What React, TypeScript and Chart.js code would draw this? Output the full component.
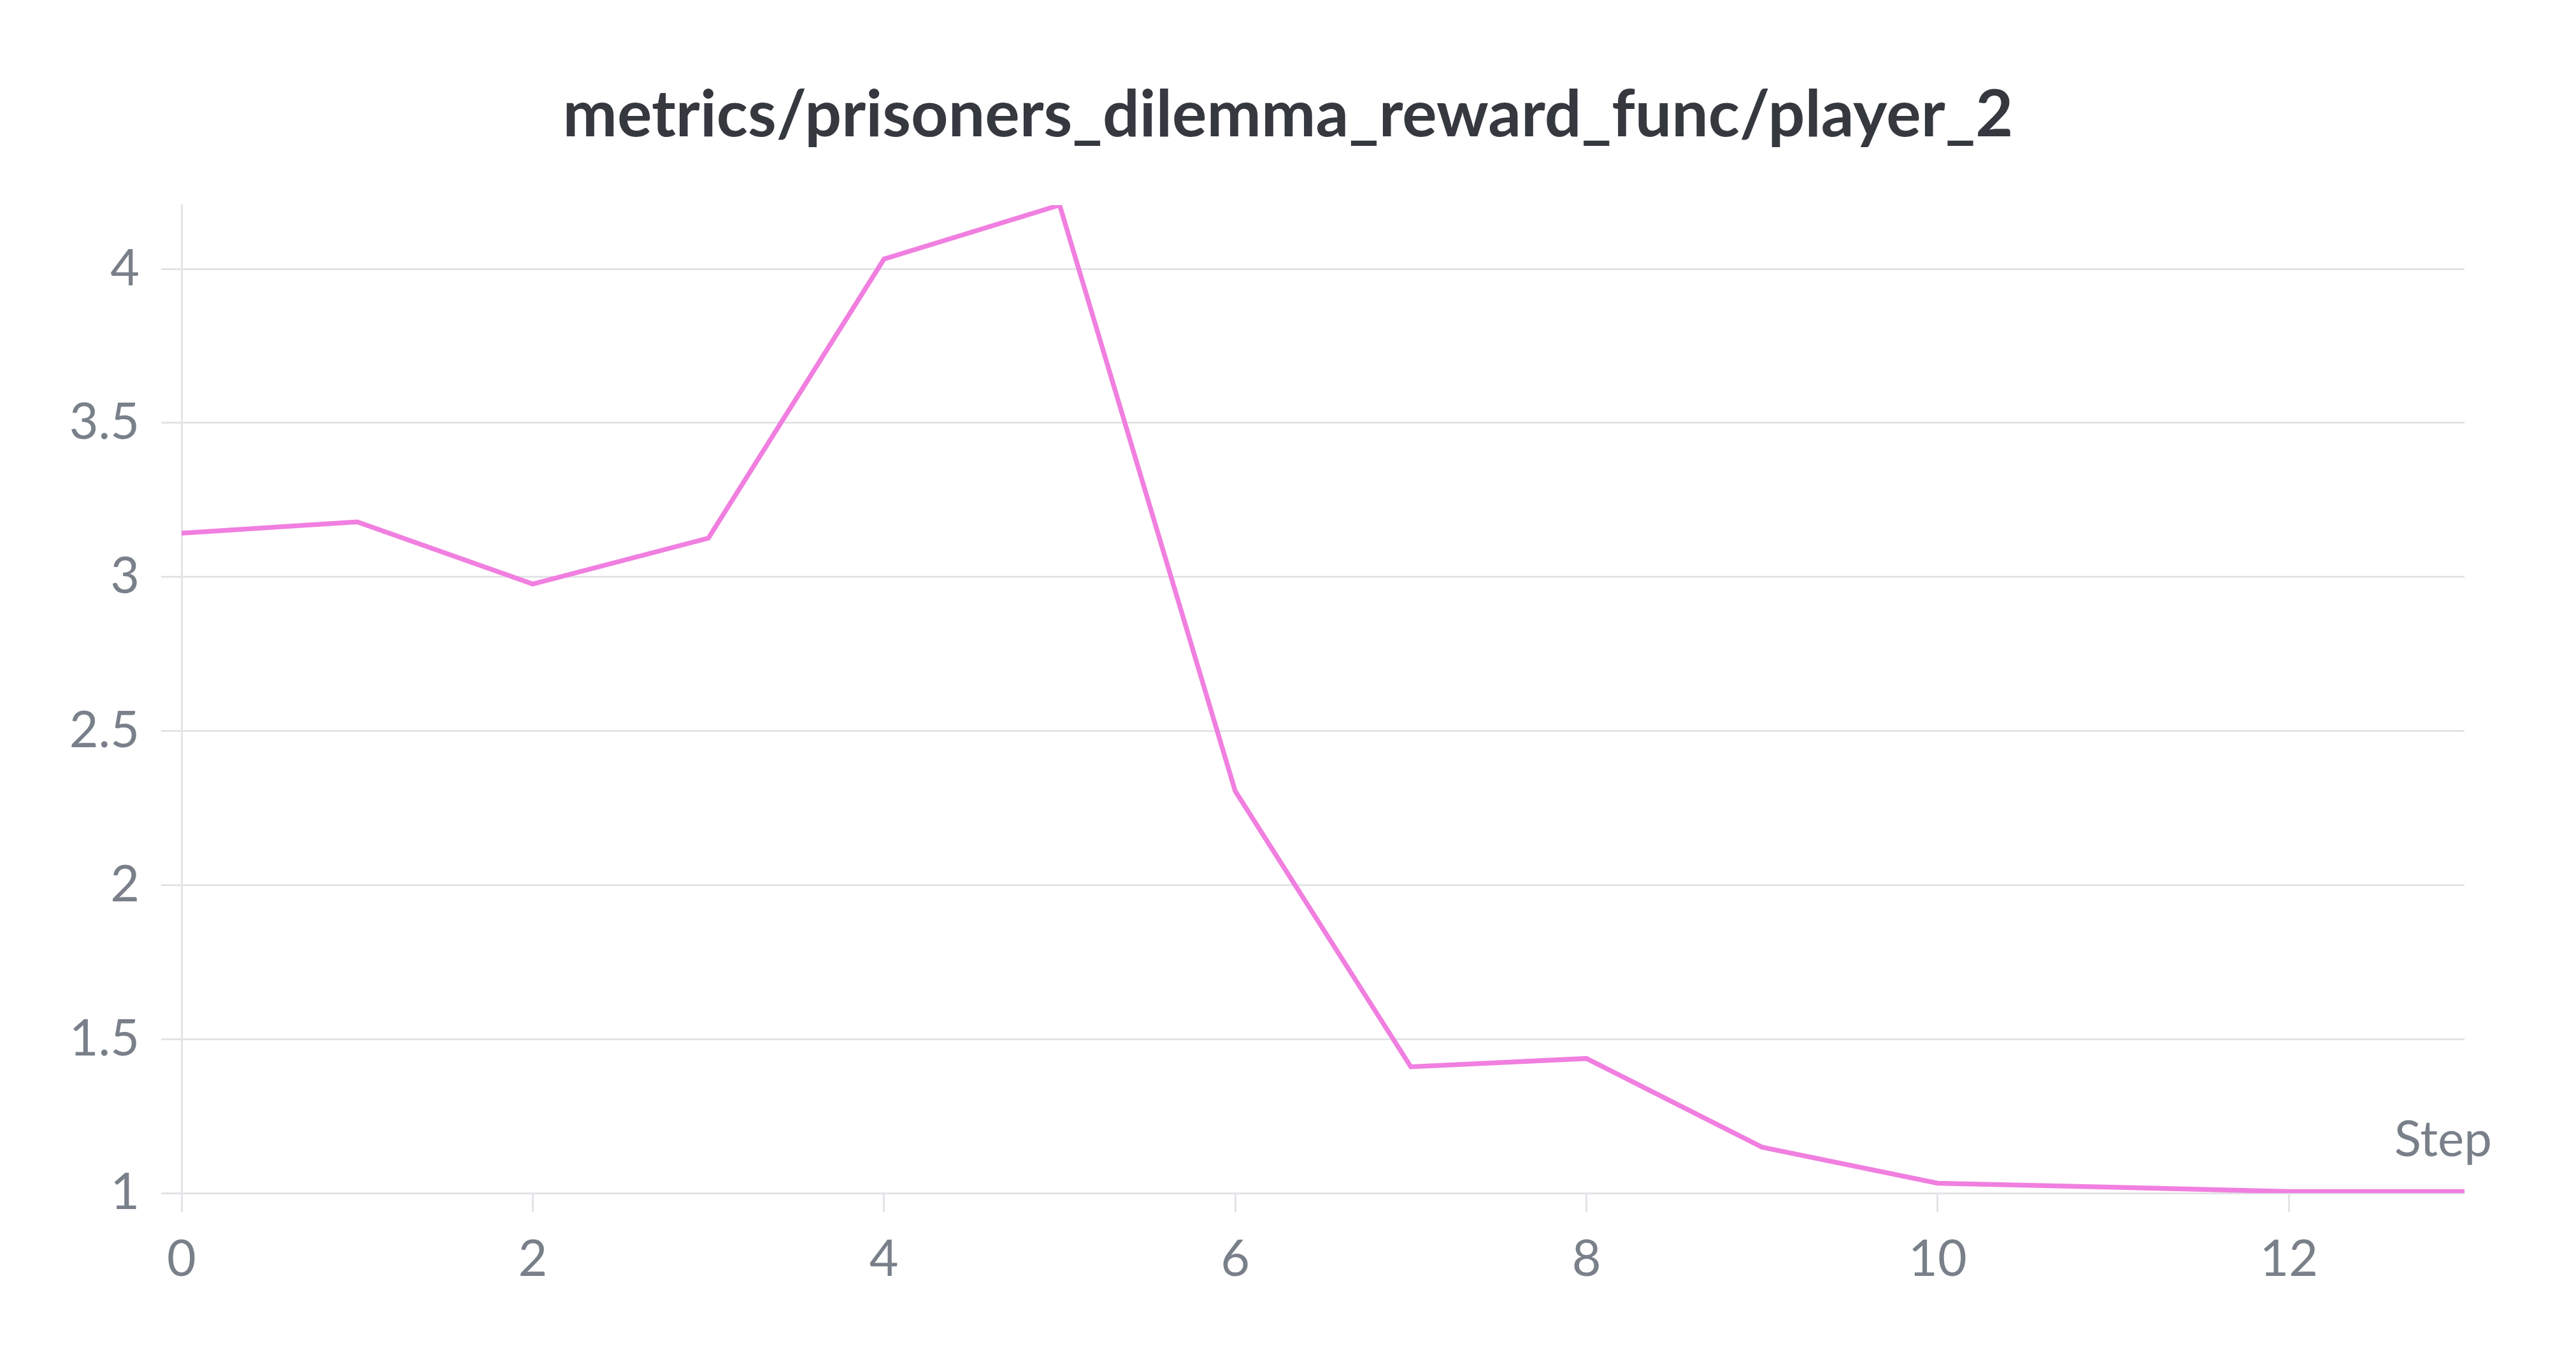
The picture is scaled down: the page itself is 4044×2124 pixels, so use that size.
import React, { useEffect, useRef } from "react";
import { Chart, registerables } from "chart.js";

Chart.register(...registerables);

const TITLE = "metrics/prisoners_dilemma_reward_func/player_2";
const X_AXIS_LABEL = "Step";
const steps = [0, 1, 2, 3, 4, 5, 6, 7, 8, 9, 10, 11, 12, 13];
const player2Reward = [3.142, 3.179, 2.977, 3.126, 4.032, 4.207, 2.305, 1.41, 1.437, 1.149, 1.032, 1.019, 1.005, 1.005];
const xTickValues = [0, 2, 4, 6, 8, 10, 12];
const yTickValues = [1, 1.5, 2, 2.5, 3, 3.5, 4];

const FONT = "Lato";
const TICK_COLOR = "#7a808a";
const GRID_COLOR = "#e3e4e7";
const LINE_COLOR = "#f07fe0";
const TITLE_COLOR = "#35393f";

export default function App() {
  const canvasRef = useRef<HTMLCanvasElement | null>(null);

  useEffect(() => {
    const canvas = canvasRef.current;
    if (!canvas) return;

    const textPlugin = {
      id: "extraText",
      afterDraw(chart: any) {
        const { ctx, chartArea, width } = chart;
        ctx.save();
        // title, centered over the whole canvas
        ctx.font = `bold 102px ${FONT}`;
        ctx.fillStyle = TITLE_COLOR;
        ctx.textAlign = "center";
        ctx.textBaseline = "middle";
        ctx.fillText(TITLE, width / 2, 181);
        // x axis name
        ctx.font = `400 78px ${FONT}`;
        ctx.fillStyle = TICK_COLOR;
        ctx.textAlign = "right";
        ctx.fillText(X_AXIS_LABEL, chartArea.right + 43, chartArea.bottom - 83);
        ctx.restore();
      },
    };

    const chart = new Chart(canvas, {
      type: "line",
      data: {
        datasets: [
          {
            label: "player_2",
            data: steps.map((s, i) => ({ x: s, y: player2Reward[i] })),
            borderColor: LINE_COLOR,
            borderWidth: 7.5,
            pointRadius: 0,
            tension: 0,
            fill: false,
            borderJoinStyle: "miter",
          },
        ],
      },
      options: {
        responsive: false,
        animation: false,
        devicePixelRatio: 1,
        layout: { padding: { left: 0, right: 175, top: 322, bottom: 0 } },
        plugins: {
          legend: { display: false },
          tooltip: { enabled: false },
          title: { display: false },
        },
        scales: {
          x: {
            type: "linear",
            min: 0,
            max: 13,
            afterBuildTicks: (scale: any) => {
              scale.ticks = xTickValues.map((v) => ({ value: v }));
            },
            afterFit: (scale: any) => {
              scale.height = 251;
            },
            grid: {
              drawOnChartArea: false,
              drawTicks: true,
              tickLength: 30,
              color: GRID_COLOR,
              lineWidth: 3,
            },
            border: { display: false },
            ticks: {
              color: TICK_COLOR,
              font: { family: FONT, size: 79 },
              padding: 27,
              maxRotation: 0,
              callback: (v: any) => String(v),
            },
          },
          y: {
            type: "linear",
            min: 1,
            max: 4.207,
            afterBuildTicks: (scale: any) => {
              scale.ticks = yTickValues.map((v) => ({ value: v }));
            },
            afterFit: (scale: any) => {
              scale.width = 285;
            },
            grid: {
              color: GRID_COLOR,
              lineWidth: 3,
              tickLength: 32,
            },
            border: { display: true, color: GRID_COLOR, width: 3 },
            ticks: {
              color: TICK_COLOR,
              font: { family: FONT, size: 79 },
              padding: 34,
              callback: (v: any) => String(v),
            },
          },
        },
      },
      plugins: [textPlugin],
    });

    return () => chart.destroy();
  }, []);

  return (
    <div style={{ position: "fixed", left: 0, top: 0, width: 4044, height: 2124, background: "#ffffff" }}>
      <canvas ref={canvasRef} width={4044} height={2124} style={{ width: 4044, height: 2124, display: "block" }} />
    </div>
  );
}
